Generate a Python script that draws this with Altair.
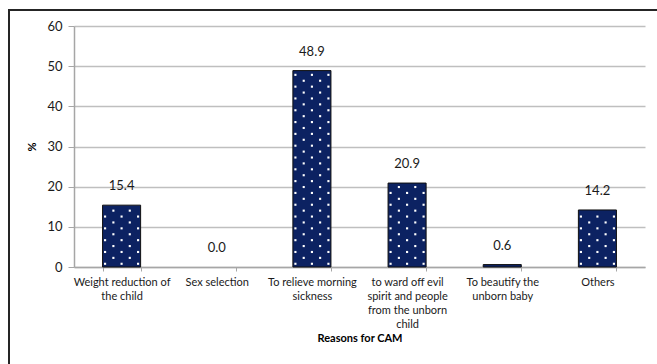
import altair as alt
import pandas as pd

categories = [
    "Weight reduction of|the child",
    "Sex selection",
    "To relieve morning|sickness",
    "to ward off evil|spirit and people|from the unborn|child",
    "To beautify the|unborn baby",
    "Others",
]
values = [15.4, 0.0, 48.9, 20.9, 0.6, 14.2]
y_ticks = [0, 10, 20, 30, 40, 50, 60]

df = pd.DataFrame({"category": categories, "value": values})
df["label"] = [f"{v:.1f}" for v in values]

FONT = "Lato"
NAVY = "#0c2262"

base = alt.Chart(df)

x_enc = alt.X(
    "category:N",
    sort=categories,
    scale=alt.Scale(paddingInner=0.6, paddingOuter=0.3),
    axis=alt.Axis(
        title="Reasons for CAM",
        labelAngle=0,
        labelExpr="split(datum.label, '|')",
        labelFont=FONT,
        labelFontSize=11,
        labelColor="#1a1a1a",
        labelLimit=0,
        labelPadding=5,
        labelLineHeight=14,
        labelBaseline="top",
        tickBand="extent",
        ticks=True,
        tickSize=4,
        tickColor="#a6a6a6",
        domainColor="#a6a6a6",
        domainWidth=1.5,
        titleFont=FONT,
        titleFontSize=11,
        titleFontWeight="bold",
        titleColor="#000000",
        titlePadding=3,
        grid=False,
    ),
)

y_enc = alt.Y(
    "value:Q",
    scale=alt.Scale(domain=[0, 60], nice=False),
    axis=alt.Axis(
        title="%",
        values=y_ticks,
        labelFont=FONT,
        labelFontSize=13,
        labelColor="#1a1a1a",
        labelPadding=6,
        tickSize=6,
        tickColor="#a6a6a6",
        domainColor="#a6a6a6",
        domainWidth=1.5,
        gridColor="#bfbfbf",
        gridWidth=1.3,
        titleFont=FONT,
        titleFontSize=11,
        titleFontWeight="bold",
        titleColor="#000000",
        titlePadding=9,
    ),
)

bars = base.mark_bar(color=NAVY, stroke="#111111", strokeWidth=1).encode(
    x=x_enc,
    y=y_enc,
    strokeOpacity=alt.condition("datum.value > 0", alt.value(1), alt.value(0)),
)

# white dot texture inside each bar (staggered grid)
dot_base = (
    base.transform_calculate(r="sequence(0, ceil(datum.value / 1.47))")
    .transform_flatten(["r"])
    .transform_calculate(dy="0.8 + datum.r * 1.47")
    .transform_filter("datum.dy < datum.value - 0.4")
)
dot_layers = []
for i, off in enumerate([-16.5, -8.2, 0.0, 8.2, 16.5]):
    dot_layers.append(
        dot_base.transform_filter(f"(datum.r + {i}) % 2 == 0")
        .mark_square(size=4.5, color="white", opacity=1, xOffset=off)
        .encode(
            x=alt.X("category:N", sort=categories),
            y=alt.Y("dy:Q"),
        )
    )

labels = base.mark_text(
    font=FONT, fontSize=13, color="#1a1a1a", dy=-19, baseline="middle"
).encode(
    x=alt.X("category:N", sort=categories),
    y=alt.Y("value:Q"),
    text="label:N",
)

frame = base.mark_rect(
    fill=None, stroke="#262626", strokeWidth=1.5
).encode(
    x=alt.value(-65), x2=alt.value(600), y=alt.value(-16), y2=alt.value(360)
)

chart = (
    alt.layer(frame, bars, *dot_layers, labels)
    .properties(
        width=571,
        height=241,
        autosize=alt.AutoSizeParams(type="none"),
        padding={"left": 74, "top": 26, "right": 12, "bottom": 97},
        background="white",
    )
    .configure_view(stroke=None)
)

chart.save("out.html", embed_options={"renderer": "svg", "actions": False})
